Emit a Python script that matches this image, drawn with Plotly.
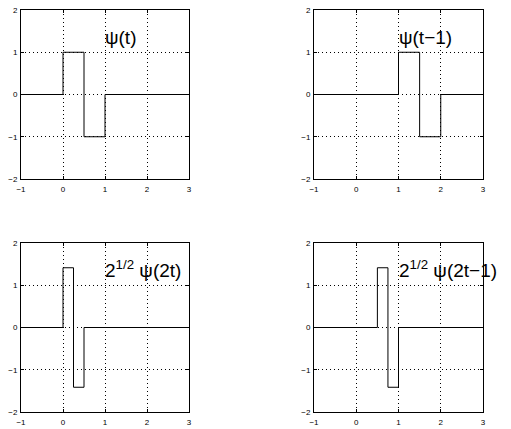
import plotly.graph_objects as go

r2 = 2 ** 0.5
# step breakpoints (line_shape='hv') for each panel
t_psi = [-1, 0, 0.5, 1, 3]
y_psi = [0, 1, -1, 0, 0]
t_psi_shift = [-1, 1, 1.5, 2, 3]
y_psi_shift = [0, 1, -1, 0, 0]
t_psi_2t = [-1, 0, 0.25, 0.5, 3]
y_psi_2t = [0, r2, -r2, 0, 0]
t_psi_2t1 = [-1, 0.5, 0.75, 1, 3]
y_psi_2t1 = [0, r2, -r2, 0, 0]

labels = ["ψ(t)", "ψ(t−1)", "2<sup>1/2</sup> ψ(2t)", "2<sup>1/2</sup> ψ(2t−1)"]
label_x = [1, 1, 1, 1]
label_y = [1.35, 1.35, 1.38, 1.38]
xticks = [-1, 0, 1, 2, 3]
yticks = [-2, -1, 0, 1, 2]

W, H = 511, 429
xdoms = [[21 / W, 189 / W], [314 / W, 483 / W]]
ydoms = [[1 - 179 / H, 1 - 10 / H], [1 - 412 / H, 1 - 243 / H]]

panels = [
    (t_psi, y_psi, 0, 0),
    (t_psi_shift, y_psi_shift, 1, 0),
    (t_psi_2t, y_psi_2t, 0, 1),
    (t_psi_2t1, y_psi_2t1, 1, 1),
]

fig = go.Figure()
layout = dict(
    width=W, height=H, margin=dict(l=0, r=0, t=0, b=0, autoexpand=False),
    paper_bgcolor="white", plot_bgcolor="white", showlegend=False,
    font=dict(family="Liberation Sans, Arial, sans-serif", size=8, color="black"),
)
annotations = []
for i, (tx, ty, col, row) in enumerate(panels):
    n = "" if i == 0 else str(i + 1)
    fig.add_trace(go.Scatter(x=tx, y=ty, mode="lines", line=dict(color="black", width=1, shape="hv"),
                             xaxis="x" + n, yaxis="y" + n, hoverinfo="skip"))
    common = dict(showgrid=True, gridcolor="black", griddash="1px,3px", gridwidth=1,
                  showline=True, linecolor="black", linewidth=1, mirror="ticks", automargin=False,
                  zeroline=False, ticks="inside", ticklen=3, tickwidth=1, tickcolor="black",
                  tickfont=dict(size=8, color="black"))
    layout["xaxis" + n] = dict(domain=xdoms[col], range=[-1, 3], tickvals=xticks,
                               anchor="y" + n, ticklabelstandoff=2, **common)
    layout["yaxis" + n] = dict(domain=ydoms[row], range=[-2, 2], tickvals=yticks,
                               anchor="x" + n, ticklabelstandoff=1, **common)
    annotations.append(dict(x=label_x[i], y=label_y[i], xref="x" + n, yref="y" + n, xshift=-2,
                            text=labels[i], showarrow=False, xanchor="left", yanchor="middle",
                            font=dict(size=19, color="black", family="Liberation Sans, Arial, sans-serif")))
layout["annotations"] = annotations
fig.update_layout(**layout)
fig.write_html("out.html", config={"displayModeBar": False},
               post_script="document.body.style.margin='0';document.body.style.overflow='hidden';")
